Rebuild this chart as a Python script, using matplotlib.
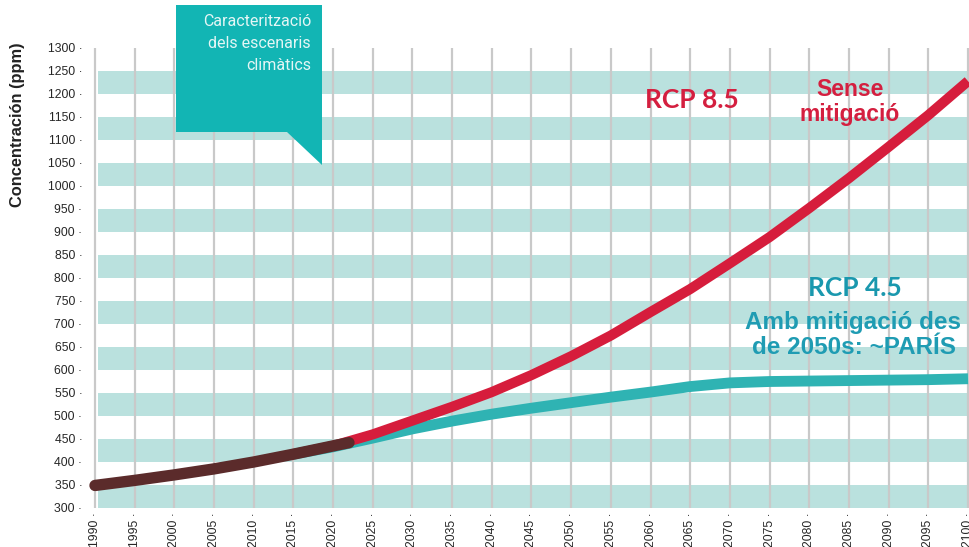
import matplotlib
matplotlib.use("Agg")
import matplotlib.pyplot as plt
from matplotlib.patches import Polygon

# ---- data ----
years_hist = [1990, 1995, 2000, 2005, 2010, 2015, 2020, 2022]
hist_ppm = [349, 360, 372, 385, 400, 417, 435, 442]

years_rcp = [2015, 2020, 2025, 2030, 2035, 2040, 2045, 2050, 2055, 2060,
             2065, 2070, 2075, 2080, 2085, 2090, 2095, 2100]
rcp85_ppm = [417, 435, 460, 490, 520, 552, 589, 630, 675, 726,
             776, 832, 889, 952, 1017, 1085, 1154, 1228]
rcp45_ppm = [417, 433, 452, 472, 489, 504, 517, 529, 541, 552,
             564, 572, 575, 576, 577, 578, 579, 581]

x_ticks = list(range(1990, 2101, 5))
y_ticks = list(range(300, 1301, 50))
band_starts = list(range(300, 1201, 100))

W, H = 969, 547
fig = plt.figure(figsize=(W / 100, H / 100), dpi=100)
fig.patch.set_facecolor("white")

def fx(px):
    return px / W

def fy(py):
    return 1 - py / H

ax = fig.add_axes([fx(95), fy(508), (968 - 95) / W, (508 - 48) / H])
ax.set_xlim(1990, 2100)
ax.set_ylim(300, 1300)
for s in ax.spines.values():
    s.set_visible(False)

band_col = "#bae1de"
for b in band_starts:
    ax.axhspan(b, b + 50, xmin=0.003, xmax=1, color=band_col, lw=0, zorder=1)

ax.vlines(x_ticks, 300, 1300, colors="#c9c9c9", lw=1.6, zorder=1.5, clip_on=False)

ax.plot(years_rcp, rcp45_ppm, color="#2fb3b3", lw=7.8, solid_capstyle="butt",
        solid_joinstyle="round", zorder=3, clip_on=False)
ax.plot(years_rcp, rcp85_ppm, color="#d61d3c", lw=7.3, solid_capstyle="butt",
        solid_joinstyle="round", zorder=4, clip_on=False)
ax.plot(years_hist, hist_ppm, color="#5b2b2b", lw=8.2, solid_capstyle="round",
        solid_joinstyle="round", zorder=5, clip_on=False)

tick_font = dict(family="Liberation Sans", size=8.8, color="#262626")
ax.set_yticks(y_ticks)
ax.set_yticklabels([f"{v} \u00b7" for v in y_ticks], **tick_font)
ax.set_xticks(x_ticks)
ax.set_xticklabels([f"{v} \u00b7" for v in x_ticks], rotation=90, **tick_font)
ax.tick_params(axis="both", length=0)
ax.tick_params(axis="y", pad=9)
ax.tick_params(axis="x", pad=3)

# y label
fig.text(fx(18), fy(125), "Concentración (ppm)", rotation=90, ha="center", va="center",
         family="Liberation Sans", weight="bold", size=11.8, color="#222222")

# callout box
poly = Polygon([(fx(176), fy(5)), (fx(322), fy(5)), (fx(322), fy(165)),
                (fx(287), fy(132)), (fx(176), fy(132))], closed=True,
               transform=fig.transFigure, facecolor="#12b5b4", edgecolor="none", zorder=10)
fig.patches.append(poly)
for txt, py in [("Caracterització", 22), ("dels escenaris", 44), ("climàtics", 66)]:
    fig.text(fx(311), fy(py), txt, ha="right", va="center", family="Roboto",
             weight="normal", size=11.5, color="#e4f6f5", zorder=11)

# annotations
red_txt = "#d41f3f"
fig.text(fx(692), fy(100), "RCP 8.5", ha="center", va="center", family="Lato",
         weight="bold", size=19, color=red_txt)
fig.text(fx(850), fy(90), "Sense", ha="center", va="center", family="Liberation Sans",
         weight="bold", size=16.5, color=red_txt)
fig.text(fx(850), fy(115), "mitigació", ha="center", va="center", family="Liberation Sans",
         weight="bold", size=16.5, color=red_txt)

blue_txt = "#1a98ae"
fig.text(fx(855), fy(288), "RCP 4.5", ha="center", va="center", family="Lato",
         weight="bold", size=19, color=blue_txt)
fig.text(fx(853), fy(322), "Amb mitigació des", ha="center", va="center",
         family="Liberation Sans", weight="bold", size=17.5, color="#1f9cb3")
fig.text(fx(854), fy(347), "de 2050s: ~PARÍS", ha="center", va="center",
         family="Liberation Sans", weight="bold", size=17.5, color="#1f9cb3")

fig.savefig("out.png", dpi=100, facecolor="white")
